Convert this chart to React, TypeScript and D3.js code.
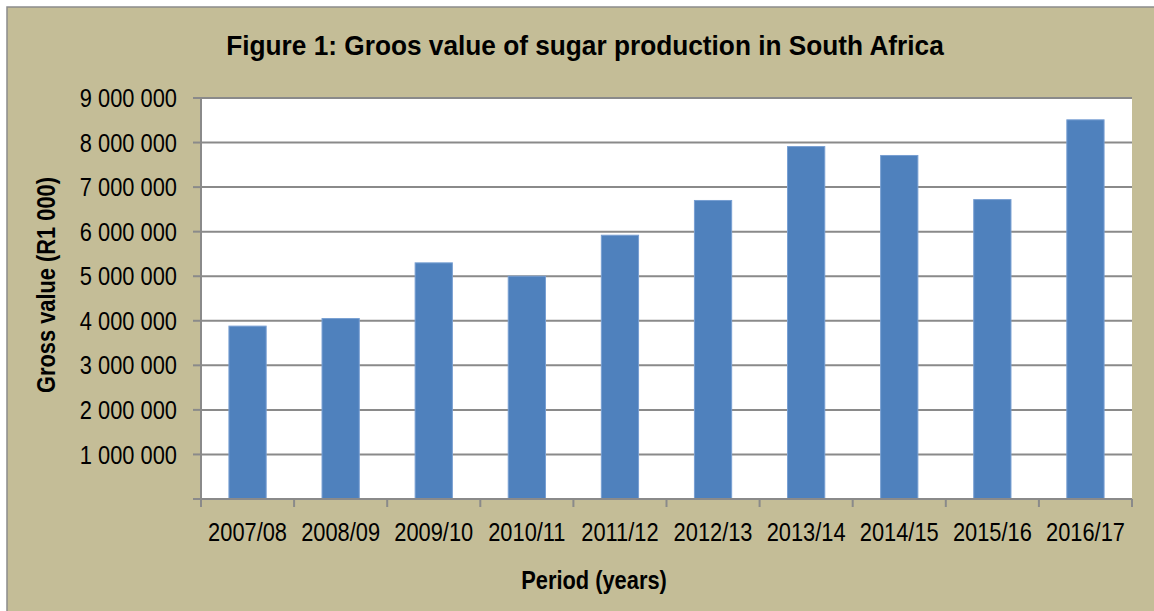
import React from "react";
import { scaleBand, scaleLinear, range } from "d3";

const periods: string[] = [
  "2007/08",
  "2008/09",
  "2009/10",
  "2010/11",
  "2011/12",
  "2012/13",
  "2013/14",
  "2014/15",
  "2015/16",
  "2016/17",
];
const grossValues: number[] = [
  3880000, 4050000, 5300000, 5000000, 5920000, 6700000, 7910000, 7710000,
  6720000, 8510000,
];
const yTicks: number[] = range(0, 9000001, 1000000);

const W = 1154;
const H = 611;
const PLOT = { left: 201, right: 1132, top: 98, bottom: 499 };
const FONT = "'Liberation Sans', Arial, sans-serif";
const NARROW = 0.84; // no Arial Narrow installed, so squeeze Liberation Sans

const fmt = (v: number) =>
  v === 0 ? "" : String(v).replace(/\B(?=(\d{3})+(?!\d))/g, " ");

// text squeezed horizontally around its anchor point
const Txt: React.FC<{
  x: number;
  y: number;
  sx?: number;
  rotate?: number;
  anchor?: "start" | "middle" | "end";
  size: number;
  bold?: boolean;
  dy?: string;
  children: React.ReactNode;
}> = ({ x, y, sx = NARROW, rotate = 0, anchor = "middle", size, bold, dy, children }) => (
  <text
    transform={`translate(${x},${y}) rotate(${rotate}) scale(${sx},1)`}
    textAnchor={anchor}
    fontSize={size}
    fontWeight={bold ? "bold" : "normal"}
    dy={dy}
    fill="#000"
  >
    {children}
  </text>
);

const App: React.FC = () => {
  const x = scaleBand<string>()
    .domain(periods)
    .range([PLOT.left, PLOT.right])
    .paddingInner(0.6)
    .paddingOuter(0.3);
  const step = (PLOT.right - PLOT.left) / periods.length;
  const y = scaleLinear().domain([0, 9000000]).range([PLOT.bottom, PLOT.top]);

  return (
    <svg
      width={W}
      height={H}
      style={{ position: "absolute", left: 0, top: 0 }}
      fontFamily={FONT}
    >
      <rect x={0} y={0} width={W} height={H} fill="#ffffff" />
      <rect
        x={7}
        y={7}
        width={W + 20}
        height={H + 20}
        fill="#c4bd97"
        stroke="#8c8c8c"
        strokeWidth={1.5}
      />
      <Txt x={585} y={55} size={28} bold sx={0.937}>
        Figure 1: Groos value of sugar production in South Africa
      </Txt>

      <rect
        x={PLOT.left}
        y={PLOT.top}
        width={PLOT.right - PLOT.left}
        height={PLOT.bottom - PLOT.top}
        fill="#ffffff"
      />
      {yTicks
        .filter((t) => t > 0)
        .map((t) => (
          <line
            key={"g" + t}
            x1={PLOT.left}
            x2={PLOT.right}
            y1={y(t)}
            y2={y(t)}
            stroke="#8a8a8a"
            strokeWidth={2}
          />
        ))}

      {periods.map((p, i) => (
        <rect
          key={p}
          x={x(p)}
          y={y(grossValues[i])}
          width={x.bandwidth()}
          height={PLOT.bottom - y(grossValues[i])}
          fill="#4f81bd"
          stroke="#789fd2"
          strokeWidth={1}
        />
      ))}

      {/* y axis */}
      <line
        x1={PLOT.left}
        x2={PLOT.left}
        y1={PLOT.top}
        y2={PLOT.bottom}
        stroke="#8a8a8a"
        strokeWidth={2}
      />
      {yTicks.map((t) => (
        <g key={"t" + t}>
          <line
            x1={PLOT.left - 8}
            x2={PLOT.left}
            y1={y(t)}
            y2={y(t)}
            stroke="#8a8a8a"
            strokeWidth={2}
          />
          <Txt x={177} y={y(t)} dy="0.35em" anchor="end" size={26}>
            {fmt(t)}
          </Txt>
        </g>
      ))}

      {/* x axis */}
      <line
        x1={PLOT.left}
        x2={PLOT.right}
        y1={PLOT.bottom}
        y2={PLOT.bottom}
        stroke="#8a8a8a"
        strokeWidth={2}
      />
      {range(periods.length + 1).map((i) => (
        <line
          key={"xt" + i}
          x1={PLOT.left + i * step}
          x2={PLOT.left + i * step}
          y1={PLOT.bottom}
          y2={PLOT.bottom + 8}
          stroke="#8a8a8a"
          strokeWidth={2}
        />
      ))}
      {periods.map((p) => (
        <Txt key={"xl" + p} x={(x(p) as number) + x.bandwidth() / 2} y={541} size={26}>
          {p}
        </Txt>
      ))}

      <Txt x={594} y={589} size={26} bold>
        Period (years)
      </Txt>
      <Txt x={55} y={285} size={26} bold rotate={-90}>
        Gross value (R1 000)
      </Txt>
    </svg>
  );
};

export default App;
